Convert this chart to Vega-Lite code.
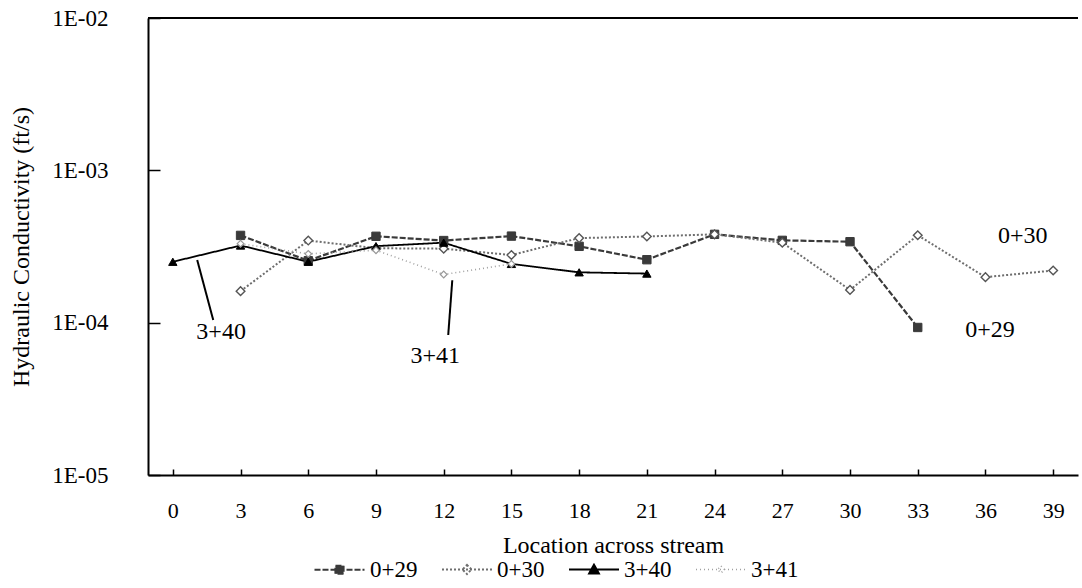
{
  "$schema": "https://vega.github.io/schema/vega-lite/v6.json",
  "width": 930,
  "height": 457,
  "autosize": {"type": "none"},
  "padding": {"left": 148, "top": 18, "right": 4, "bottom": 113},
  "background": "white",
  "config": {
    "view": {"stroke": null},
    "font": "Liberation Serif",
    "axis": {
      "grid": false,
      "domainColor": "black",
      "domainWidth": 2,
      "tickColor": "black",
      "tickWidth": 1.5,
      "labelColor": "black",
      "titleColor": "black",
      "labelFont": "Liberation Serif",
      "titleFont": "Liberation Serif",
      "titleFontWeight": "normal"
    },
    "legend": {
      "labelFont": "Liberation Serif",
      "labelFontSize": 23,
      "labelColor": "black"
    }
  },
  "datasets": {
    "k": [
      {"series": "0+29", "loc": 3, "k": 0.000374},
      {"series": "0+29", "loc": 6, "k": 0.000255},
      {"series": "0+29", "loc": 9, "k": 0.000369},
      {"series": "0+29", "loc": 12, "k": 0.000346},
      {"series": "0+29", "loc": 15, "k": 0.00037},
      {"series": "0+29", "loc": 18, "k": 0.000317},
      {"series": "0+29", "loc": 21, "k": 0.000259},
      {"series": "0+29", "loc": 24, "k": 0.00038},
      {"series": "0+29", "loc": 27, "k": 0.000347},
      {"series": "0+29", "loc": 30, "k": 0.00034},
      {"series": "0+29", "loc": 33, "k": 0.000093},
      {"series": "0+30", "loc": 3, "k": 0.000161},
      {"series": "0+30", "loc": 6, "k": 0.000346},
      {"series": "0+30", "loc": 9, "k": 0.000308},
      {"series": "0+30", "loc": 12, "k": 0.000306},
      {"series": "0+30", "loc": 15, "k": 0.000278},
      {"series": "0+30", "loc": 18, "k": 0.000359},
      {"series": "0+30", "loc": 21, "k": 0.000368},
      {"series": "0+30", "loc": 24, "k": 0.00038},
      {"series": "0+30", "loc": 27, "k": 0.000335},
      {"series": "0+30", "loc": 30, "k": 0.000164},
      {"series": "0+30", "loc": 33, "k": 0.000375},
      {"series": "0+30", "loc": 36, "k": 0.000199},
      {"series": "0+30", "loc": 39, "k": 0.00022},
      {"series": "3+40", "loc": 0, "k": 0.000251},
      {"series": "3+40", "loc": 3, "k": 0.000321},
      {"series": "3+40", "loc": 6, "k": 0.000251},
      {"series": "3+40", "loc": 9, "k": 0.000318},
      {"series": "3+40", "loc": 12, "k": 0.000335},
      {"series": "3+40", "loc": 15, "k": 0.000243},
      {"series": "3+40", "loc": 18, "k": 0.000214},
      {"series": "3+40", "loc": 21, "k": 0.00021},
      {"series": "3+41", "loc": 3, "k": 0.00033},
      {"series": "3+41", "loc": 6, "k": 0.000283},
      {"series": "3+41", "loc": 9, "k": 0.000299},
      {"series": "3+41", "loc": 12, "k": 0.000207},
      {"series": "3+41", "loc": 15, "k": 0.000243}
    ],
    "ann": [
      {"text": "3+40", "loc": 2.14, "k": 0.000087},
      {"text": "3+41", "loc": 11.63, "k": 0.00006},
      {"text": "0+30", "loc": 37.65, "k": 0.00037},
      {"text": "0+29", "loc": 36.2, "k": 0.00009}
    ],
    "lead": [
      {"loc": 1.08, "k": 0.000258, "loc2": 1.79, "k2": 0.000104},
      {"loc": 12.38, "k": 0.00019, "loc2": 12.2, "k2": 0.000083}
    ]
  },
  "layer": [
    {
      "data": {"values": [{"k": 0.01}]},
      "mark": {"type": "rule", "color": "black", "strokeWidth": 2},
      "encoding": {
        "y": {"field": "k", "type": "quantitative", "scale": {"type": "log", "domain": [0.00001, 0.01]}}
      }
    },
    {
      "data": {"name": "k"},
      "mark": {"type": "line"},
      "encoding": {
        "x": {
          "field": "loc", "type": "quantitative",
          "scale": {"domain": [-1.1, 40.1], "nice": false, "zero": false},
          "axis": {
            "values": [0, 3, 6, 9, 12, 15, 18, 21, 24, 27, 30, 33, 36, 39],
            "title": "Location across stream",
            "labelFontSize": 22, "titleFontSize": 24,
            "tickSize": -6, "labelPadding": 31, "titlePadding": 12,
            "labelFlush": false
          }
        },
        "y": {
          "field": "k", "type": "quantitative",
          "scale": {"type": "log", "domain": [0.00001, 0.01]},
          "axis": {
            "values": [0.00001, 0.0001, 0.001, 0.01],
            "labelExpr": "'1E-0' + format(-log(datum.value)/LN10, '.0f')",
            "title": "Hydraulic Conductivity (ft/s)",
            "labelFontSize": 23, "titleFontSize": 24,
            "tickSize": -12, "labelPadding": 52, "titlePadding": 18
          }
        },
        "color": {
          "field": "series", "type": "nominal",
          "scale": {"domain": ["0+29", "0+30", "3+40", "3+41"], "range": ["#3a3a3a", "#6e6e6e", "#000000", "#a0a0a0"]},
          "legend": {
            "title": null,
            "orient": "none",
            "legendX": 165,
            "legendY": 525,
            "direction": "horizontal",
            "symbolSize": 2500,
            "columnPadding": 20,
            "labelOffset": 4,
            "encode": {
              "symbols": {
                "update": {
                  "shape": {"signal": "datum.value === '0+29' ? 'M-1,0H1M-0.16,-0.16H0.16V0.16H-0.16Z' : datum.value === '0+30' ? 'M-1,0H1M0,-0.18L0.18,0L0,0.18L-0.18,0Z' : datum.value === '3+40' ? 'M-1,0H1M0,-0.2L0.2,0.16H-0.2Z' : 'M-1,0H1M0,-0.14L0.14,0L0,0.14L-0.14,0Z'"},
                  "fill": {"signal": "datum.value === '0+29' ? '#3a3a3a' : datum.value === '3+40' ? '#000000' : '#ffffff'"}
                }
              }
            }
          }
        },
        "strokeDash": {
          "field": "series", "type": "nominal",
          "scale": {"domain": ["0+29", "0+30", "3+40", "3+41"], "range": [[6, 2], [2, 2], [1, 0], [1, 3]]}
        },
        "strokeWidth": {
          "field": "series", "type": "nominal",
          "scale": {"domain": ["0+29", "0+30", "3+40", "3+41"], "range": [2.2, 1.6, 2.6, 1.6]}
        }
      }
    },
    {
      "data": {"name": "k"},
      "transform": [{"filter": "datum.series === '0+29'"}],
      "mark": {"type": "point", "shape": "square", "filled": true, "fill": "#3a3a3a", "stroke": "#3a3a3a", "strokeWidth": 1, "opacity": 1, "size": 70},
      "encoding": {
        "x": {"field": "loc", "type": "quantitative"},
        "y": {"field": "k", "type": "quantitative"}
      }
    },
    {
      "data": {"name": "k"},
      "transform": [{"filter": "datum.series === '0+30'"}],
      "mark": {"type": "point", "shape": "diamond", "filled": true, "fill": "#ffffff", "stroke": "#555555", "strokeWidth": 1.4, "opacity": 1, "size": 75},
      "encoding": {
        "x": {"field": "loc", "type": "quantitative"},
        "y": {"field": "k", "type": "quantitative"}
      }
    },
    {
      "data": {"name": "k"},
      "transform": [{"filter": "datum.series === '3+40'"}],
      "mark": {"type": "point", "shape": "triangle-up", "filled": true, "fill": "#000000", "stroke": "#000000", "strokeWidth": 1, "opacity": 1, "size": 70},
      "encoding": {
        "x": {"field": "loc", "type": "quantitative"},
        "y": {"field": "k", "type": "quantitative"}
      }
    },
    {
      "data": {"name": "k"},
      "transform": [{"filter": "datum.series === '3+41'"}],
      "mark": {"type": "point", "shape": "diamond", "filled": true, "fill": "#ffffff", "stroke": "#999999", "strokeWidth": 1.2, "opacity": 1, "size": 45},
      "encoding": {
        "x": {"field": "loc", "type": "quantitative"},
        "y": {"field": "k", "type": "quantitative"}
      }
    },
    {
      "data": {"name": "lead"},
      "mark": {"type": "rule", "color": "black", "strokeWidth": 2},
      "encoding": {
        "x": {"field": "loc", "type": "quantitative"},
        "y": {"field": "k", "type": "quantitative"},
        "x2": {"field": "loc2"},
        "y2": {"field": "k2"}
      }
    },
    {
      "data": {"name": "ann"},
      "mark": {"type": "text", "font": "Liberation Serif", "fontSize": 24, "color": "black", "align": "center", "baseline": "middle"},
      "encoding": {
        "x": {"field": "loc", "type": "quantitative"},
        "y": {"field": "k", "type": "quantitative"},
        "text": {"field": "text"}
      }
    }
  ]
}
